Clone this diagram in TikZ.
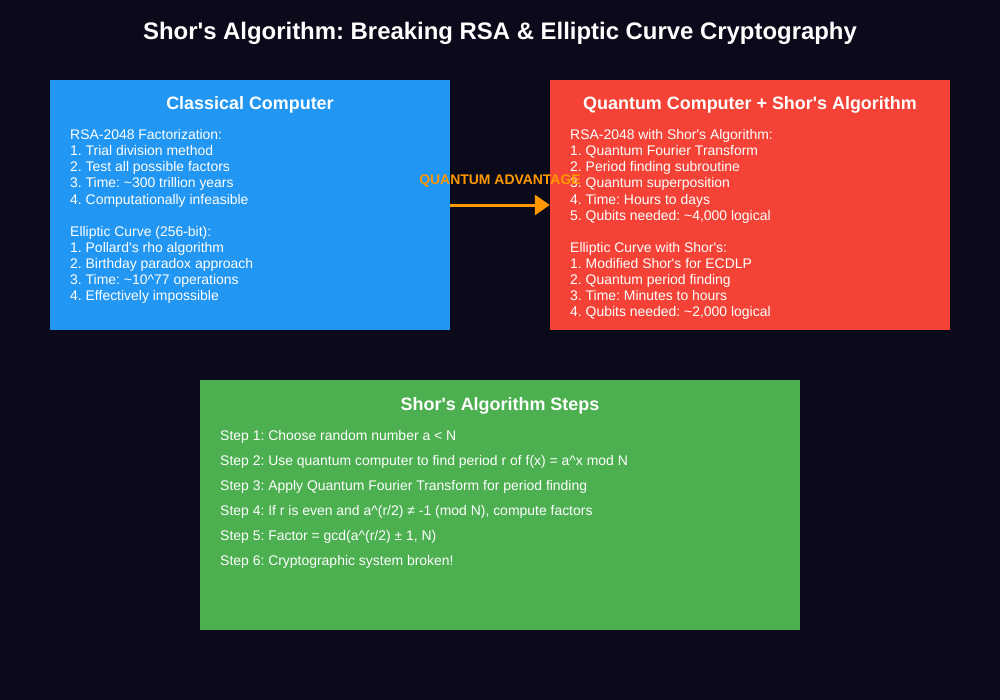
\documentclass[tikz,border=0pt]{standalone}
\usepackage{fontspec}
\setmainfont{Liberation Sans}[Ligatures=TeXOff]
\usetikzlibrary{arrows.meta}
\definecolor{bg}{HTML}{0A0A1A}
\definecolor{cblue}{HTML}{2196F3}
\definecolor{cred}{HTML}{F44336}
\definecolor{cgreen}{HTML}{4CAF50}
\definecolor{corange}{HTML}{FF9800}
\newcommand{\tld}{\textasciitilde}
\newcommand{\crt}{\textasciicircum}
\frenchspacing
\begin{document}
\begin{tikzpicture}[x=1bp,y=-1bp,
  panel/.style={minimum width=400bp,minimum height=250bp,inner sep=0pt,draw=none},
  paneltitle/.style={anchor=base,text=white,font=\frenchspacing\bfseries\fontsize{18}{22}\selectfont,inner sep=0pt},
  body/.style={anchor=base west,text=white,font=\frenchspacing\fontsize{14}{16}\selectfont,inner sep=0pt},
  advarrow/.style={draw=corange,line width=3bp,-{Triangle[length=15bp,width=20bp]}}]
\fill[bg] (0,0) rectangle (1000,700);
\useasboundingbox (0,0) rectangle (1000,700);
\node[anchor=base,text=white,font=\frenchspacing\bfseries\fontsize{24}{28}\selectfont,inner sep=0pt] (title) at (500,40)
  {Shor's Algorithm: Breaking RSA \& Elliptic Curve Cryptography};
% panels
\node[panel,fill=cblue] (classical) at (250,205) {};
\node[panel,fill=cred] (quantum) at (750,205) {};
\node[panel,minimum width=600bp,fill=cgreen] (steps) at (500,505) {};
% titles
\node[paneltitle] (ctitle) at (250,110) {Classical Computer};
\node[paneltitle] (qtitle) at (750,110) {Quantum Computer + Shor's Algorithm};
\node[paneltitle] (stitle) at (500,410) {Shor's Algorithm Steps};
% classical body
\node[body] (c1) at (70,140) {RSA-2048 Factorization:};
\node[body] (c2) at (70,156) {1. Trial division method};
\node[body] (c3) at (70,172) {2. Test all possible factors};
\node[body] (c4) at (70,188) {3. Time: \tld300 trillion years};
\node[body] (c5) at (70,204) {4. Computationally infeasible};
\node[body] (c6) at (70,236) {Elliptic Curve (256-bit):};
\node[body] (c7) at (70,252) {1. Pollard's rho algorithm};
\node[body] (c8) at (70,268) {2. Birthday paradox approach};
\node[body] (c9) at (70,284) {3. Time: \tld10\crt77 operations};
\node[body] (c10) at (70,300) {4. Effectively impossible};
% quantum body
\node[body] (q1) at (570,140) {RSA-2048 with Shor's Algorithm:};
\node[body] (q2) at (570,156) {1. Quantum Fourier Transform};
\node[body] (q3) at (570,172) {2. Period finding subroutine};
\node[body] (q4) at (570,188) {3. Quantum superposition};
\node[body] (q5) at (570,204) {4. Time: Hours to days};
\node[body] (q6) at (570,220) {5. Qubits needed: \tld4,000 logical};
\node[body] (q7) at (570,252) {Elliptic Curve with Shor's:};
\node[body] (q8) at (570,268) {1. Modified Shor's for ECDLP};
\node[body] (q9) at (570,284) {2. Quantum period finding};
\node[body] (q10) at (570,300) {3. Time: Minutes to hours};
\node[body] (q11) at (570,316) {4. Qubits needed: \tld2,000 logical};
% steps body
\node[body] (s1) at (220,440) {Step 1: Choose random number a < N};
\node[body] (s2) at (220,465) {Step 2: Use quantum computer to find period r of f(x) = a\crt x mod N};
\node[body] (s3) at (220,490) {Step 3: Apply Quantum Fourier Transform for period finding};
\node[body] (s4) at (220,515) {Step 4: If r is even and a\crt(r/2) ≠ -1 (mod N), compute factors};
\node[body] (s5) at (220,540) {Step 5: Factor = gcd(a\crt(r/2) ± 1, N)};
\node[body] (s6) at (220,565) {Step 6: Cryptographic system broken!};
% arrow
\draw[advarrow] (classical.east) -- (quantum.west);
\node[anchor=base,text=corange,font=\frenchspacing\bfseries\fontsize{14}{16}\selectfont,inner sep=0pt] (adv) at (500,185) {QUANTUM ADVANTAGE};
\end{tikzpicture}
\end{document}
